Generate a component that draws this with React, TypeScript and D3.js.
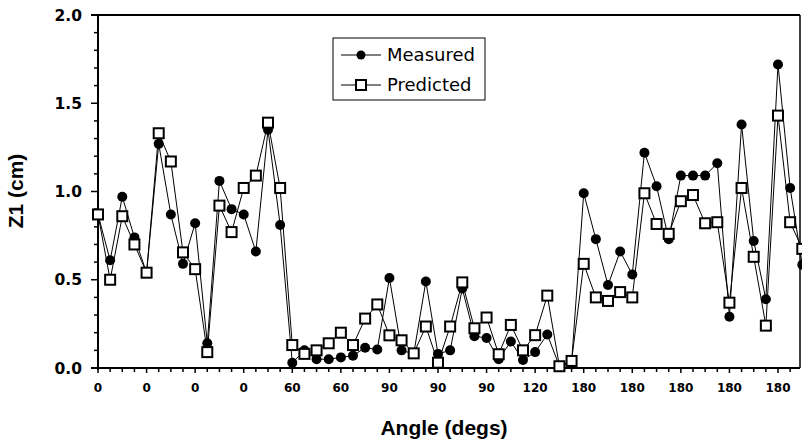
import React from 'react';
import * as d3 from 'd3';

// values, one per angle step
const measured = [
  0.87, 0.61, 0.97, 0.74, 0.54, 1.27, 0.87, 0.59, 0.82, 0.14,
  1.06, 0.90, 0.87, 0.66, 1.35, 0.81, 0.03, 0.10, 0.05, 0.05,
  0.06, 0.07, 0.115, 0.105, 0.51, 0.10, 0.08, 0.49, 0.08, 0.10,
  0.45, 0.18, 0.17, 0.05, 0.15, 0.045, 0.09, 0.19, 0.01, 0.03,
  0.99, 0.73, 0.47, 0.66, 0.53, 1.22, 1.03, 0.73, 1.09, 1.09,
  1.09, 1.16, 0.29, 1.38, 0.72, 0.39, 1.72, 1.02, 0.585
];
const predicted = [
  0.87, 0.50, 0.86, 0.70, 0.54, 1.33, 1.17, 0.655, 0.56, 0.09,
  0.92, 0.77, 1.02, 1.09, 1.39, 1.02, 0.13, 0.08, 0.10, 0.14,
  0.20, 0.13, 0.28, 0.36, 0.185, 0.157, 0.083, 0.235, 0.03, 0.235,
  0.485, 0.225, 0.286, 0.078, 0.244, 0.10, 0.186, 0.41, 0.01, 0.04,
  0.59, 0.40, 0.38, 0.43, 0.40, 0.99, 0.816, 0.76, 0.945, 0.98,
  0.82, 0.826, 0.37, 1.02, 0.63, 0.24, 1.43, 0.826, 0.675
];
// a label every 4th step
const angleLabels = ['0', '0', '0', '0', '60', '60', '90', '90', '90', '120', '180', '180', '180', '180', '180'];
const yTicks = [0, 0.5, 1.0, 1.5, 2.0];

const numFont = '"DejaVu Sans", sans-serif';
const titleFont = '"Liberation Sans", Arial, sans-serif';

export default function App() {
  const width = 802;
  const height = 442;
  const left = 98;
  const right = 800;
  const top = 15;
  const bottom = 368;

  const x = d3.scaleLinear().domain([0, 56]).range([left, 778]);
  const y = d3.scaleLinear().domain([0, 2]).range([bottom, top]);

  const line = d3.line<number>().x((d, i) => x(i)).y(d => y(d));

  const minorY = d3.range(0, 21).map(i => i / 10);
  const xTickIdx = d3.range(0, 58);

  return (
    <svg width={width} height={height} style={{ position: 'absolute', left: 0, top: 0, background: 'white' }}>
      {/* frame */}
      <line x1={left - 7} x2={right} y1={top} y2={top} stroke="black" strokeWidth={2} />
      <line x1={right} x2={right} y1={top} y2={bottom} stroke="black" strokeWidth={1.5} />
      <line x1={left} x2={left} y1={top} y2={bottom + 2} stroke="black" strokeWidth={2} />
      <line x1={left - 7} x2={right} y1={bottom} y2={bottom} stroke="black" strokeWidth={2} />

      {/* y ticks */}
      {minorY.map(v => (
        <line key={'my' + v} x1={left - (Math.round(v * 10) % 5 === 0 ? 7 : 4)} x2={left} y1={y(v)} y2={y(v)} stroke="black" strokeWidth={1.5} />
      ))}
      {yTicks.map(v => (
        <text key={'ty' + v} x={82} y={y(v)} dy="0.37em" textAnchor="end" fontFamily={numFont} fontWeight="bold" fontSize={15.5}>
          {v.toFixed(1)}
        </text>
      ))}

      {/* x ticks */}
      {xTickIdx.map(i => (
        <line key={'tx' + i} x1={x(i)} x2={x(i)} y1={bottom} y2={bottom + (i % 4 === 0 ? 5 : 4)} stroke="black" strokeWidth={1.5} />
      ))}
      {angleLabels.map((t, i) => (
        <text key={'lx' + i} x={x(i * 4)} y={392} textAnchor="middle" fontFamily={numFont} fontWeight="bold" fontSize={12}>
          {t}
        </text>
      ))}

      {/* titles */}
      <text x={444} y={435} textAnchor="middle" fontFamily={titleFont} fontWeight="bold" fontSize={21}>Angle (degs)</text>
      <text transform="translate(23,191) rotate(-90)" textAnchor="middle" fontFamily={titleFont} fontWeight="bold" fontSize={21}>Z1 (cm)</text>

      {/* series */}
      <path d={line(measured) || ''} fill="none" stroke="black" strokeWidth={1} />
      {measured.map((v, i) => (
        <circle key={'m' + i} cx={x(i)} cy={y(v)} r={5} fill="black" />
      ))}
      <path d={line(predicted) || ''} fill="none" stroke="black" strokeWidth={1} />
      {predicted.map((v, i) => (
        <rect key={'p' + i} x={x(i) - 5} y={y(v) - 5} width={10} height={10} fill="white" stroke="black" strokeWidth={2} />
      ))}

      {/* legend */}
      <rect x={333} y={38} width={152} height={62} fill="white" stroke="black" strokeWidth={1} />
      <line x1={341} x2={381} y1={55} y2={55} stroke="black" strokeWidth={1} />
      <circle cx={361} cy={55} r={4.5} fill="black" />
      <text x={387} y={61} fontFamily={numFont} fontSize={18}>Measured</text>
      <line x1={341} x2={381} y1={85} y2={85} stroke="black" strokeWidth={1} />
      <rect x={356} y={80} width={10} height={10} fill="white" stroke="black" strokeWidth={2} />
      <text x={387} y={91} fontFamily={numFont} fontSize={18}>Predicted</text>
    </svg>
  );
}
